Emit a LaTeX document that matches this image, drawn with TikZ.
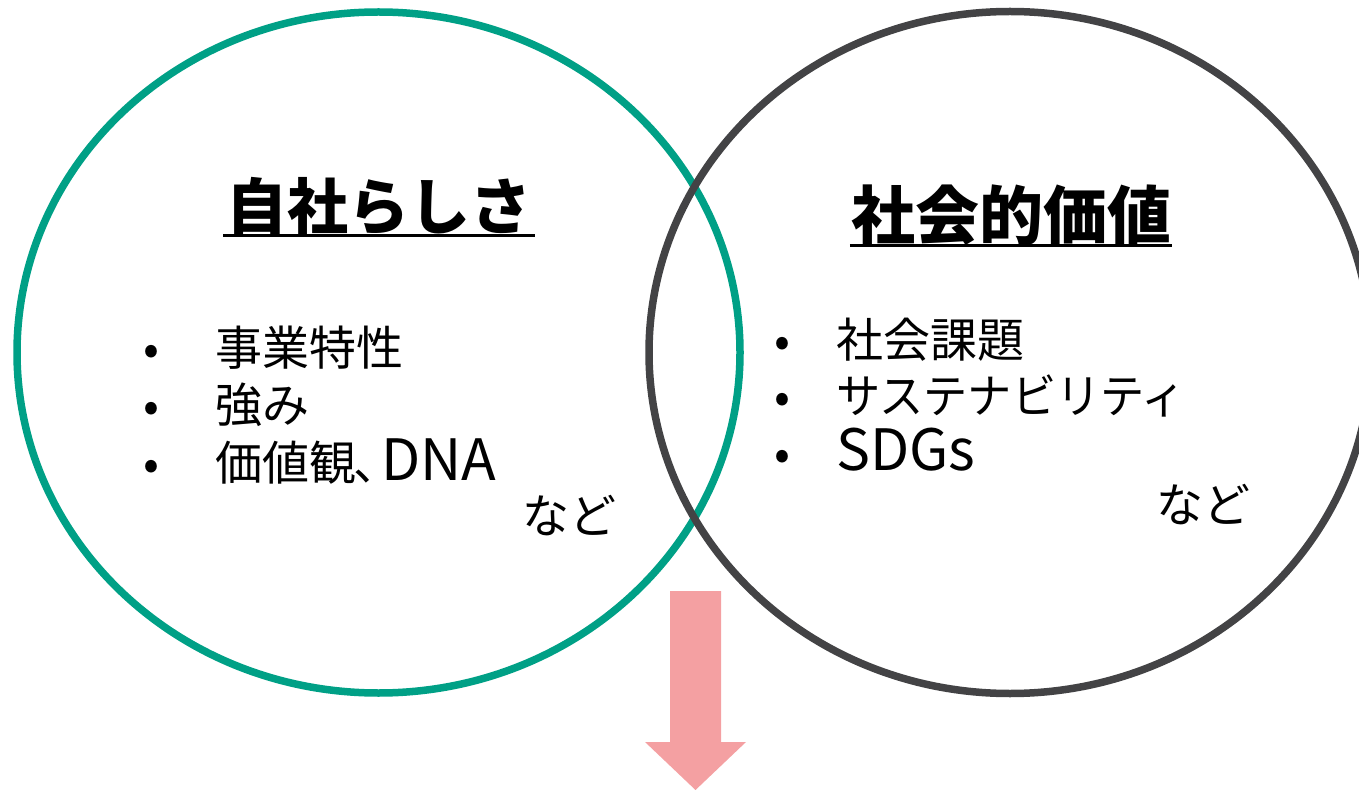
\documentclass[tikz,border=0pt]{standalone}
\usepackage{fontspec}
\setmainfont{Noto Sans CJK JP}
\definecolor{ringgreen}{HTML}{00A086}
\definecolor{ringgray}{HTML}{434345}
\definecolor{arrowpink}{HTML}{F4A0A2}
\newcommand{\latinbig}[1]{{\fontsize{57}{56}\selectfont #1}}
\tikzset{
  ring/.style={line width=7.5pt},
  titletext/.style={inner sep=0pt, anchor=base, font=\bfseries\fontsize{61}{70}\selectfont},
  itemtext/.style={inner sep=0pt, anchor=base west, font=\fontsize{47}{56}\selectfont},
  bullettext/.style={inner sep=0pt, anchor=base, font=\fontsize{47}{56}\selectfont},
  uline/.style={line width=3pt}
}
\begin{document}
\begin{tikzpicture}[x=1pt,y=-1pt]
\useasboundingbox (0,0) rectangle (1359,791);
\clip (0,0) rectangle (1359,791);
% circles
\draw[ring, ringgreen] (378.5,352.5) ellipse [x radius=361.5, y radius=340.5];
\draw[ring, ringgray] (1010,352.5) ellipse [x radius=361, y radius=341];
% titles
\node[titletext] (t1) at (379,230) {自社らしさ};
\node[titletext, font=\bfseries\fontsize{64}{72}\selectfont] (t2) at (1011,240) {社会的価値};
\draw[uline] ([xshift=-3pt,yshift=-6pt]t1.base west) -- ([xshift=3pt,yshift=-6pt]t1.base east);
\draw[uline] ([xshift=-1pt,yshift=-6pt]t2.base west) -- ([xshift=1pt,yshift=-6pt]t2.base east);
% left items
\node[bullettext] (lb1) at (151,365) {•};
\node[bullettext] (lb2) at (151,422) {•};
\node[bullettext] (lb3) at (151,480) {•};
\node[itemtext] (l1) at (215,365) {事業特性};
\node[itemtext] (l2) at (215,422) {強み};
\node[itemtext] (l3) at (215,480) {価値観\kern-0.05em、\kern-0.42em\latinbig{DNA}};
\node[itemtext] (l4) at (522,533) {など};
% right items
\node[bullettext] (rb1) at (782,357) {•};
\node[bullettext] (rb2) at (782,413) {•};
\node[bullettext] (rb3) at (782,470) {•};
\node[itemtext] (r1) at (836,357) {社会課題};
\node[itemtext] (r2) at (836,413) {\scalebox{0.94}[1]{サステナビリティ}};
\node[itemtext] (r3) at (836,470) {\latinbig{SDGs}};
\node[itemtext] (r4) at (1156,522) {など};
% arrow
\fill[arrowpink] (670,591) -- (721,591) -- (721,742) -- (746,742) -- (695.5,790) -- (645,742) -- (670,742) -- cycle;
\end{tikzpicture}
\end{document}
